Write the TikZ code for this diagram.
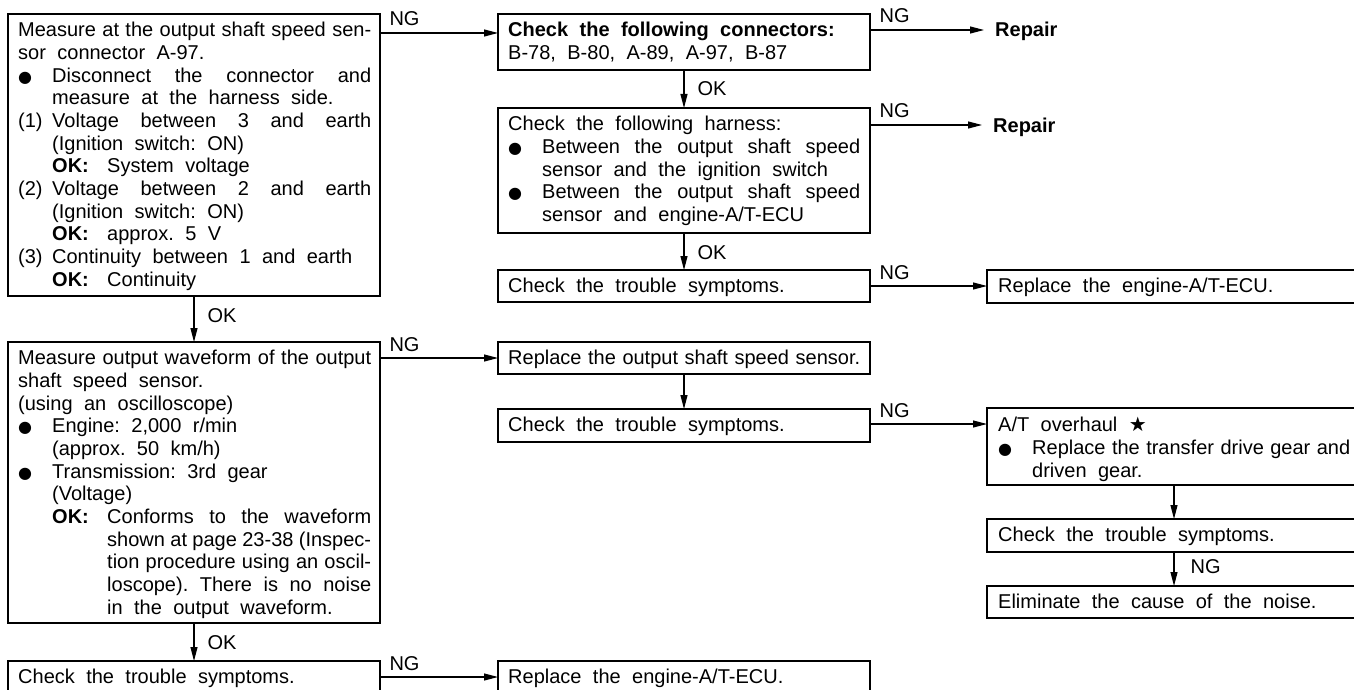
\documentclass[tikz,border=0pt]{standalone}
\usepackage{fontspec}
\setmainfont{Liberation Sans}
\newfontfamily\symf{DejaVu Sans}
\usetikzlibrary{arrows.meta}
\newcommand\tf{\fontsize{20}{22.7}\selectfont\frenchspacing\spaceskip=0.57em plus 0.6em minus 0.32em\relax\parindent=0pt\tolerance=10000\hbadness=10000\relax}
\newcommand\bul{{\symf\fontsize{16}{16}\selectfont ●}}
\newcommand\itm[1]{\par\hangindent=34pt\hangafter=1\makebox[34pt][l]{#1}}
\newcommand\okl{\makebox[55pt][l]{\textbf{OK:}}}
\begin{document}
\begin{tikzpicture}[x=1pt,y=-1pt,
  box/.style n args={2}{draw, line width=1.1pt, minimum width=#1, minimum height=#2, anchor=north west, inner sep=0pt, outer sep=0pt},
  txt/.style={anchor=north west, inner sep=0pt, text width=#1, align=justify, font=\tf},
  arr/.style={line width=1.1pt, -{Triangle[length=14pt,width=7pt]}},
  hlab/.style={pos=0, anchor=base west, inner sep=0pt, xshift=9pt, yshift=7pt, font=\tf},
  vlab/.style={pos=0, anchor=base west, inner sep=0pt, xshift=13pt, yshift=-26pt, font=\tf},
  rep/.style={anchor=base west, inner xsep=11pt, inner ysep=0pt, font=\tf\bfseries}]
\path[use as bounding box, clip] (0,0) rectangle (1354,690);
% boxes
\node[box={372pt}{282pt}] (L1) at (8,14) {};
\node[box={372pt}{281pt}] (L2) at (8,342) {};
\node[box={372pt}{40pt}] (L3) at (8,661) {};
\node[box={372pt}{56pt}] (M1) at (498,14) {};
\node[box={372pt}{125pt}] (M2) at (498,108) {};
\node[box={372pt}{32pt}] (M3) at (498,270) {};
\node[box={420pt}{33pt}] (R1) at (987,270) {};
\node[box={372pt}{32pt}] (M4) at (498,342) {};
\node[box={372pt}{33pt}] (M5) at (498,409) {};
\node[box={420pt}{77pt}] (R2) at (987,408) {};
\node[box={420pt}{33pt}] (R3) at (987,519) {};
\node[box={420pt}{32pt}] (R4) at (987,586) {};
\node[box={372pt}{40pt}] (M6) at (498,661) {};
\node[rep] (Rp1) at (984,37) {Repair};
\node[rep] (Rp2) at (982,132) {Repair};
% texts
\node[txt=353pt] (tL1) at ([shift={(10,6.6)}]L1.north west) {\strut Measure at the output shaft speed sen-\linebreak sor connector A-97.%
\itm{\bul}Disconnect the connector and\linebreak measure at the harness side.%
\itm{(1)}Voltage between 3 and earth\linebreak (Ignition switch: ON)\newline\okl System voltage%
\itm{(2)}Voltage between 2 and earth\linebreak (Ignition switch: ON)\newline\okl approx. 5 V%
\itm{(3)}Continuity between 1 and earth\newline\okl Continuity\par};
\node[txt=353pt] (tL2) at ([shift={(10,6.6)}]L2.north west) {\strut Measure output waveform of the output\linebreak shaft speed sensor.\newline (using an oscilloscope)%
\itm{\bul}Engine: 2,000 r/min\newline (approx. 50 km/h)%
\itm{\bul}Transmission: 3rd gear\newline (Voltage)\par
\hangindent=89pt\hangafter=1\hspace*{34pt}\okl Conforms to the waveform\linebreak shown at page 23-38 (Inspec-\linebreak tion procedure using an oscil-\linebreak loscope). There is no noise\linebreak in the output waveform.\par};
\node[txt=353pt] (tL3) at ([shift={(10,6.6)}]L3.north west) {\strut Check the trouble symptoms.};
\node[txt=352pt] (tM1) at ([shift={(10,6.6)}]M1.north west) {\strut\textbf{Check the following connectors:}\newline B-78, B-80, A-89, A-97, B-87};
\node[txt=352pt] (tM2) at ([shift={(10,6.6)}]M2.north west) {\strut Check the following harness:%
\itm{\bul}Between the output shaft speed\linebreak sensor and the ignition switch%
\itm{\bul}Between the output shaft speed\linebreak sensor and engine-A/T-ECU\par};
\node[txt=352pt] (tM3) at ([shift={(10,6.6)}]M3.north west) {\strut Check the trouble symptoms.};
\node[txt=352pt] (tR1) at ([shift={(11,6.6)}]R1.north west) {\strut Replace the engine-A/T-ECU.};
\node[txt=352pt] (tM4) at ([shift={(10,6.6)}]M4.north west) {\strut Replace the output shaft speed sensor.};
\node[txt=352pt] (tM5) at ([shift={(10,6.6)}]M5.north west) {\strut Check the trouble symptoms.};
\node[txt=352pt] (tR2) at ([shift={(11,7.6)}]R2.north west) {\strut A/T overhaul {\symf ★}%
\itm{\bul}Replace the transfer drive gear and\linebreak driven gear.\par};
\node[txt=352pt] (tR3) at ([shift={(11,6.6)}]R3.north west) {\strut Check the trouble symptoms.};
\node[txt=352pt] (tR4) at ([shift={(11,6.6)}]R4.north west) {\strut Eliminate the cause of the noise.};
\node[txt=352pt] (tM6) at ([shift={(10,6.6)}]M6.north west) {\strut Replace the engine-A/T-ECU.};
% connectors
\draw[arr] ([yshift=-19pt]L1.north east) -- ([yshift=-19pt]L1.north east -| M1.west) node[hlab]{NG};
\draw[arr] ([yshift=-16pt]M1.north east) -- ([yshift=-16pt]M1.north east -| Rp1.west) node[hlab]{NG};
\draw[arr] (M1.south) -- (M2.north) node[vlab]{OK};
\draw[arr] ([yshift=-17pt]M2.north east) -- ([yshift=-17pt]M2.north east -| Rp2.west) node[hlab]{NG};
\draw[arr] (M2.south) -- (M3.north) node[vlab]{OK};
\draw[arr] (M3.east) -- (M3.east -| R1.west) node[hlab]{NG};
\draw[arr] (L1.south) -- (L2.north) node[vlab]{OK};
\draw[arr] ([yshift=-16pt]L2.north east) -- ([yshift=-16pt]L2.north east -| M4.west) node[hlab]{NG};
\draw[arr] (M4.south) -- (M5.north);
\draw[arr] ([yshift=-15pt]M5.north east) -- ([yshift=-15pt]M5.north east -| R2.west) node[hlab]{NG};
\draw[arr] ([xshift=187pt]R2.south west) -- ([xshift=187pt]R3.north west);
\draw[arr] ([xshift=187pt]R3.south west) -- ([xshift=187pt]R4.north west) node[vlab, xshift=3pt, yshift=5pt]{NG};
\draw[arr] ([xshift=186pt]L2.south west) -- ([xshift=186pt]L3.north west) node[vlab]{OK};
\draw[arr] ([yshift=-16pt]L3.north east) -- ([yshift=-16pt]L3.north east -| M6.west) node[hlab]{NG};
\end{tikzpicture}
\end{document}
